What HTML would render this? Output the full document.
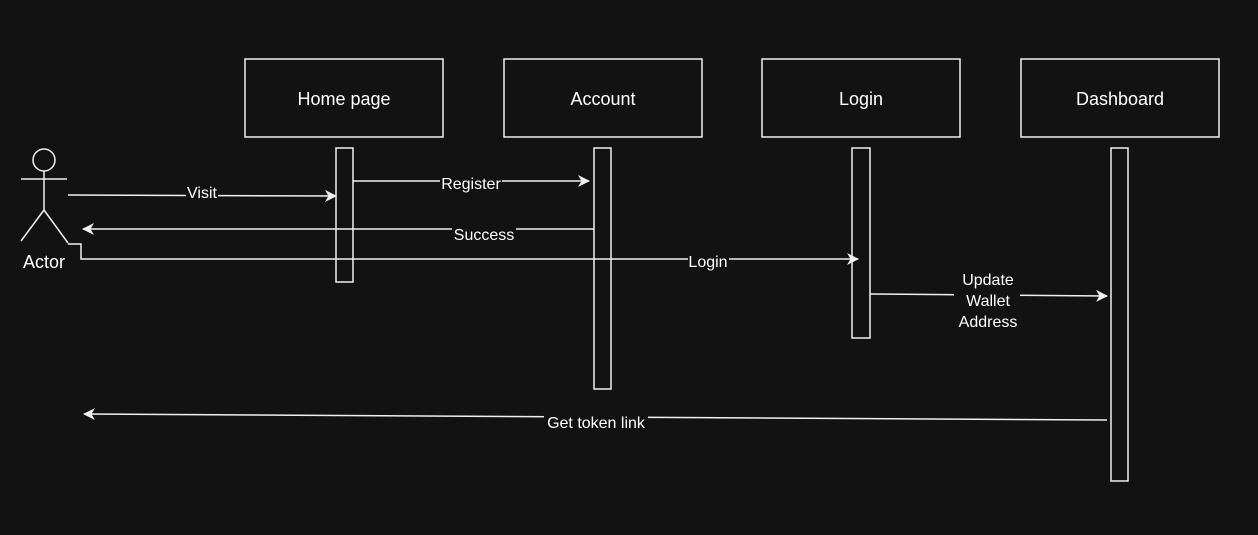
<!DOCTYPE html>
<html><head><style>
html,body{margin:0;padding:0;background:#121212;}
svg{display:block;}
text{font-family:"Liberation Sans",Arial,sans-serif;fill:#fff;}
</style></head><body>
<svg width="1258" height="535" viewBox="0 0 1258 535" xmlns="http://www.w3.org/2000/svg">
<defs>
<marker id="a" viewBox="0 0 12 12" refX="11" refY="6" markerWidth="12" markerHeight="12" orient="auto" markerUnits="userSpaceOnUse"><path d="M0,0 L12,6 L0,12 L3.5,6 Z" fill="#f0f0f0"/></marker>
</defs>
<rect width="1258" height="535" fill="#121212"/>
<g fill="none" stroke="#f0f0f0" stroke-width="1.5">
<rect x="245" y="59" width="198" height="78"/>
<rect x="504" y="59" width="198" height="78"/>
<rect x="762" y="59" width="198" height="78"/>
<rect x="1021" y="59" width="198" height="78"/>
<rect x="336" y="148" width="17" height="134"/>
<rect x="594" y="148" width="17" height="241"/>
<rect x="852" y="148" width="18" height="190"/>
<rect x="1111" y="148" width="17" height="333"/>
<circle cx="44" cy="160" r="11"/>
<line x1="44" y1="171" x2="44" y2="210"/>
<line x1="21" y1="179" x2="67" y2="179"/>
<line x1="44" y1="210" x2="21" y2="241"/>
<line x1="44" y1="210" x2="68" y2="243"/>
<path d="M68,195 L336,196" marker-end="url(#a)"/>
<path d="M353,181 L589,181" marker-end="url(#a)"/>
<path d="M594,229 L83,229" marker-end="url(#a)"/>
<path d="M68,244 L81,244 L81,259 L858,259" marker-end="url(#a)"/>
<path d="M870,294 L1107,296" marker-end="url(#a)"/>
<path d="M1107,420 L84,414" marker-end="url(#a)"/>
</g>
<g font-size="18" text-anchor="middle">
<text x="344" y="105">Home page</text>
<text x="603" y="105">Account</text>
<text x="861" y="105">Login</text>
<text x="1120" y="105">Dashboard</text>
<text x="44" y="268">Actor</text>
</g>
<g font-size="16" text-anchor="middle">
<rect x="186" y="186" width="32" height="14" fill="#121212"/>
<text x="202" y="198">Visit</text>
<rect x="440" y="175" width="62" height="14" fill="#121212"/>
<text x="471" y="189">Register</text>
<rect x="452" y="224" width="64" height="14" fill="#121212"/>
<text x="484" y="240">Success</text>
<rect x="688" y="254" width="41" height="14" fill="#121212"/>
<text x="708" y="267">Login</text>
<rect x="954" y="268" width="66" height="64" fill="#121212"/>
<text x="988" y="285">Update</text>
<text x="988" y="306">Wallet</text>
<text x="988" y="327">Address</text>
<rect x="544" y="412" width="104" height="16" fill="#121212"/>
<text x="596" y="428">Get token link</text>
</g>
</svg>
</body></html>
